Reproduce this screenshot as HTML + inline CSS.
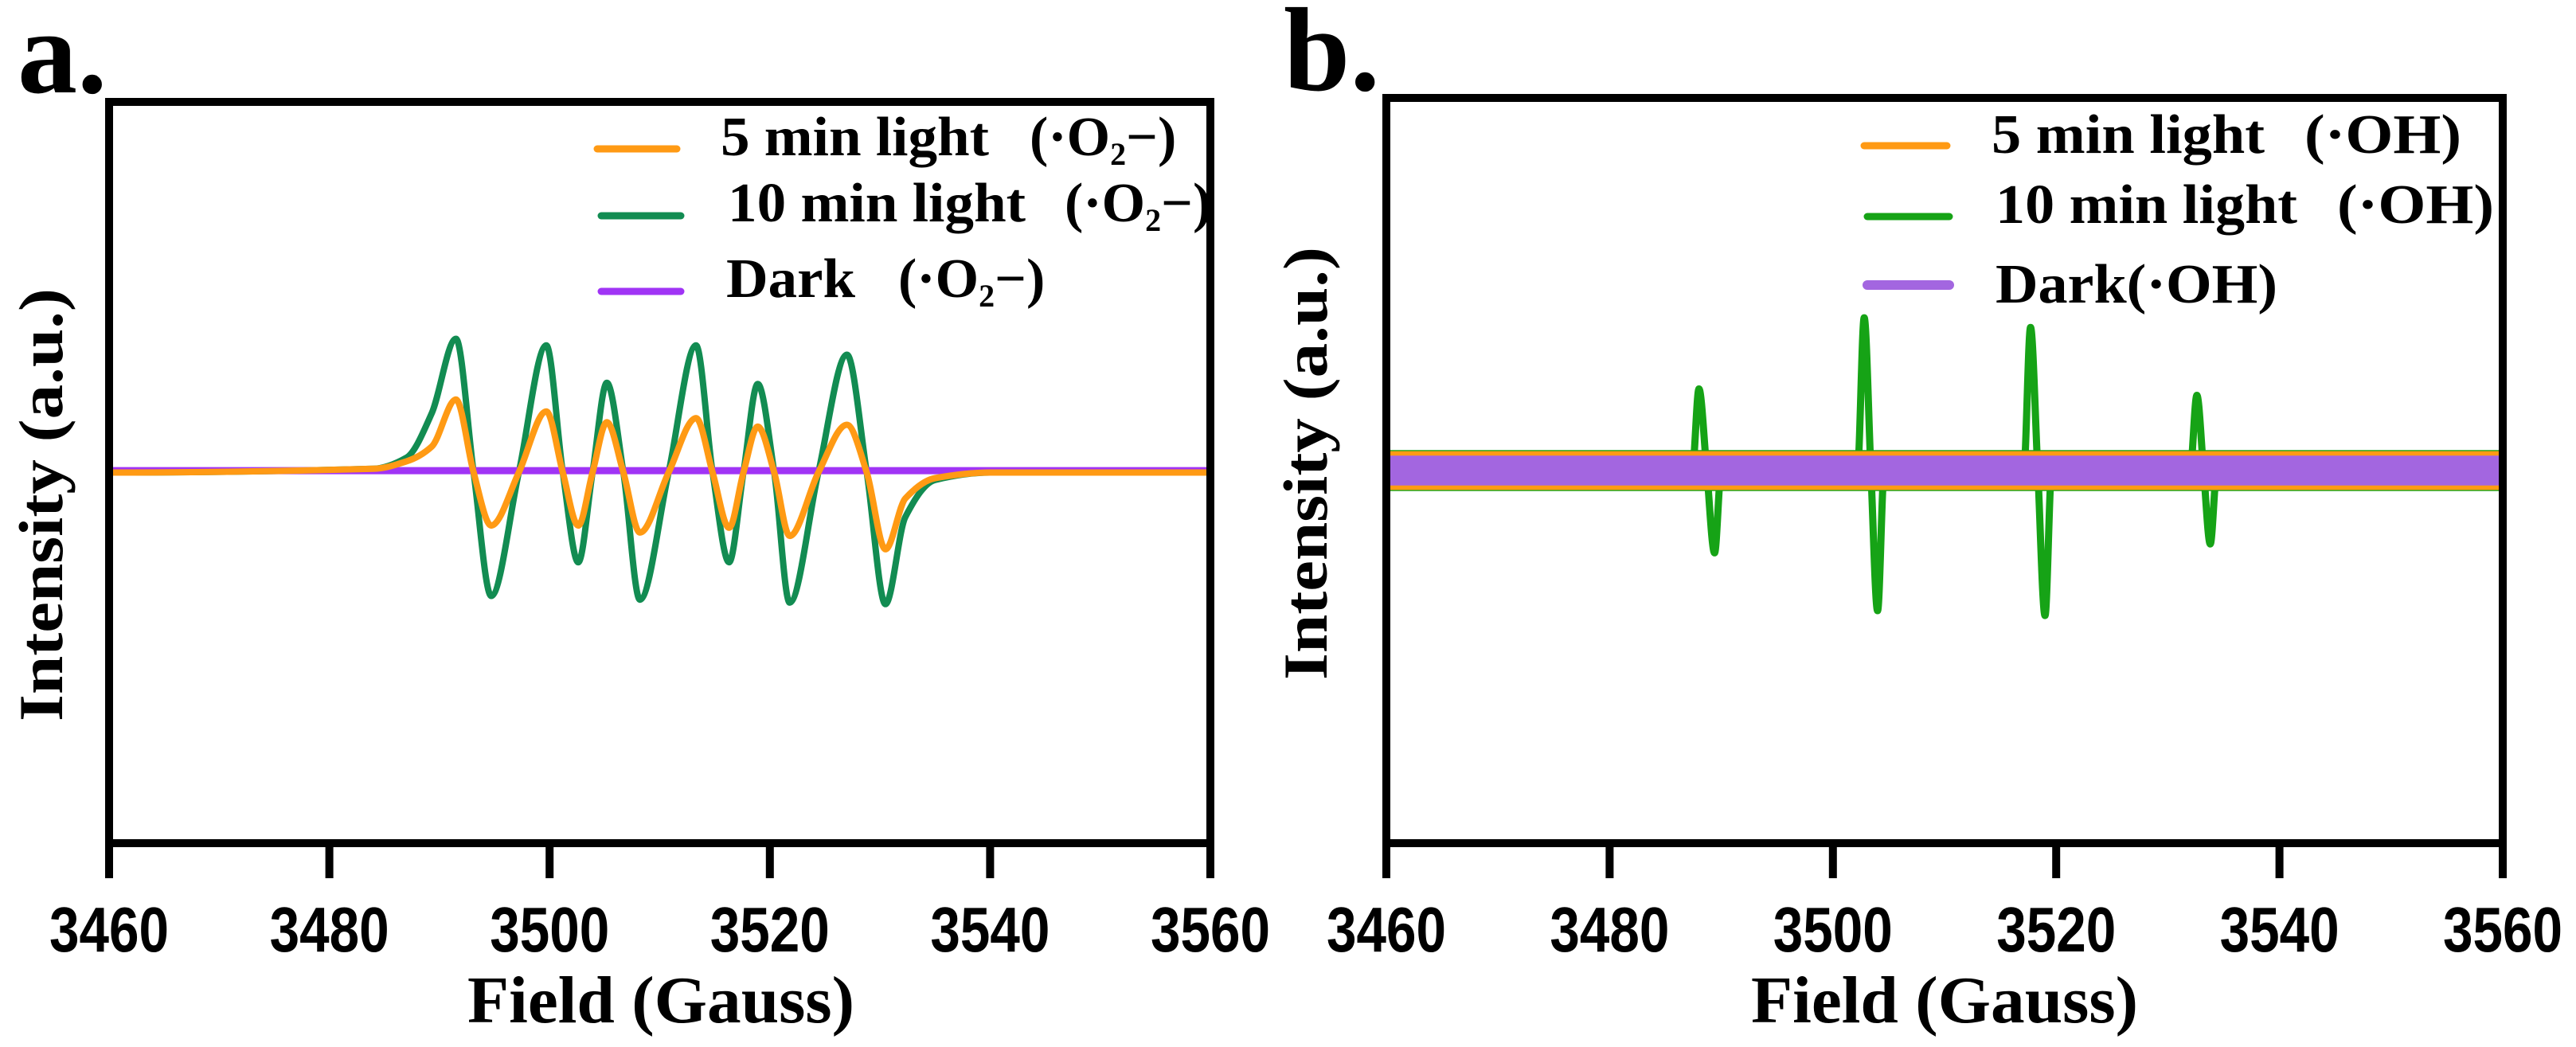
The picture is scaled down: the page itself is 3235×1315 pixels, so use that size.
<!DOCTYPE html>
<html><head><meta charset="utf-8">
<style>
html,body{margin:0;padding:0;background:#fff;}
svg{display:block;}
.ser{font-family:"Liberation Serif","Noto Serif CJK SC",serif;font-weight:bold;}
.san{font-family:"Liberation Sans",sans-serif;font-weight:bold;}
</style></head>
<body>
<svg id="fig" width="3235" height="1315" viewBox="0 0 3235 1315" xmlns="http://www.w3.org/2000/svg">
  <rect x="0" y="0" width="3235" height="1315" fill="#fff"/>
  <g id="panelA"></g>
  <g id="panelB"></g>

  <text class="ser" x="22" y="116" font-size="150">a.</text>
  <text class="ser" x="1612" y="113" font-size="150">b.</text>

  <g>
    <line x1="750" y1="187" x2="850" y2="187" stroke="#ff9a14" stroke-width="9" stroke-linecap="round"/>
    <line x1="755" y1="271" x2="855" y2="271" stroke="#128c52" stroke-width="9" stroke-linecap="round"/>
    <line x1="755" y1="366" x2="855" y2="366" stroke="#a034f5" stroke-width="9" stroke-linecap="round"/>
    <text class="ser" x="905" y="195" font-size="70" textLength="337" lengthAdjust="spacingAndGlyphs">5 min light</text>
    <text class="ser" x="1293" y="195" font-size="70">(·O<tspan font-size="40" dy="12">2</tspan><tspan dy="-12">−)</tspan></text>
    <text class="ser" x="914" y="278" font-size="70" textLength="374" lengthAdjust="spacingAndGlyphs">10 min light</text>
    <text class="ser" x="1337" y="278" font-size="70">(·O<tspan font-size="40" dy="12">2</tspan><tspan dy="-12">−)</tspan></text>
    <text class="ser" x="912" y="373" font-size="70" textLength="162" lengthAdjust="spacingAndGlyphs">Dark</text>
    <text class="ser" x="1128" y="373" font-size="70">(·O<tspan font-size="40" dy="12">2</tspan><tspan dy="-12">−)</tspan></text>
  </g>
  <g>
    <line x1="2341" y1="183" x2="2445" y2="183" stroke="#ff9a14" stroke-width="9" stroke-linecap="round"/>
    <line x1="2345" y1="272" x2="2448" y2="272" stroke="#16a316" stroke-width="9" stroke-linecap="round"/>
    <line x1="2345" y1="358" x2="2448" y2="358" stroke="#a366e0" stroke-width="12" stroke-linecap="round"/>
    <text class="ser" x="2501" y="192" font-size="70" textLength="343" lengthAdjust="spacingAndGlyphs">5 min light</text>
    <text class="ser" x="2894" y="192" font-size="70" textLength="197" lengthAdjust="spacingAndGlyphs">(·OH)</text>
    <text class="ser" x="2506" y="280" font-size="70" textLength="379" lengthAdjust="spacingAndGlyphs">10 min light</text>
    <text class="ser" x="2935" y="280" font-size="70" textLength="197" lengthAdjust="spacingAndGlyphs">(·OH)</text>
    <text class="ser" x="2506" y="380" font-size="70" textLength="354" lengthAdjust="spacingAndGlyphs">Dark(·OH)</text>
  </g>
</svg>
<script>
const xTicks = [3460, 3480, 3500, 3520, 3540, 3560];
const xDomain = [3460, 3560];
const yDomain = [-100, 100];

// panel a: superoxide
const aFields = [3460, 3484, 3487, 3489.3, 3491.5, 3493.1, 3494.7, 3497.2, 3499.7, 3501.2, 3502.6, 3503.9, 3505.2, 3506.7, 3508.2, 3510.8, 3513.3, 3514.8, 3516.3, 3517.6, 3518.9, 3520.4, 3521.8, 3524.4, 3527.0, 3528.8, 3530.5, 3532.3, 3535, 3540, 3560];
const aGreen10 = [0, 1, 4, 16, 36.1, 0, -33.3, 0, 34.3, 0, -24.2, 0, 24.2, 0, -34.3, 0, 34.3, 0, -24.2, 0, 23.9, 0, -35.1, 0, 31.8, 0, -35.5, -12, -2, 0, 0];
const aOrange5 = [0, 1, 3, 7, 19.7, 0, -14.3, 0, 16.5, 0, -14.3, 0, 13.6, 0, -16.2, 0, 14.7, 0, -14.9, 0, 12.4, 0, -17.1, 0, 12.9, 0, -20.7, -7, -1.5, 0, 0];
const aDarkFields = [3460, 3560];
const aDark = [0.5, 0.5];

// panel b: hydroxyl
const bFields = [3460, 3487.4, 3488.0, 3488.7, 3489.4, 3490.0, 3502.2, 3502.8, 3503.4, 3504.0, 3504.6, 3517.1, 3517.7, 3518.35, 3519.0, 3519.6, 3532.0, 3532.6, 3533.2, 3533.8, 3534.4, 3560];
const bGreen10 = [0, 0, 21.9, 0, -22.1, 0, 0, 41, 0, -37.6, 0, 0, 38.4, 0, -38.9, 0, 0, 20.2, 0, -19.7, 0, 0];
const bBaseFields = [3460, 3560];
const bGreenBase = [0, 0];
const bOrangeBase = [0, 0];
const bDarkBase = [0, 0];
const bNoiseAmp = [5.5, 5.2, 4.0];

const NS = "http://www.w3.org/2000/svg";
function mk(tag, attrs, parent){ const e=document.createElementNS(NS,tag); for(const k in attrs) e.setAttribute(k,attrs[k]); parent.appendChild(e); return e; }

function makeAxes(box){
  const sx = v => box.x0 + (v - xDomain[0]) / (xDomain[1]-xDomain[0]) * (box.x1-box.x0);
  const sy = v => box.y1 - (v - yDomain[0]) / (yDomain[1]-yDomain[0]) * (box.y1-box.y0);
  return {sx, sy};
}
// monotone cubic (Fritsch-Carlson) path
function curvePath(fields, vals, ax){
  const p = fields.map((f,i)=>[ax.sx(f), ax.sy(vals[i])]);
  const n=p.length;
  if(n===2) return "M"+p[0][0]+","+p[0][1]+" L"+p[1][0]+","+p[1][1];
  const s=[], m=[];
  for(let i=0;i<n-1;i++) s.push((p[i+1][1]-p[i][1])/(p[i+1][0]-p[i][0]));
  for(let i=0;i<n;i++){
    if(i===0) m.push(0); else if(i===n-1) m.push(0);
    else if(s[i-1]*s[i]<=0) m.push(0);
    else m.push(2/(1/s[i-1]+1/s[i]));
  }
  let d="M"+p[0][0].toFixed(1)+","+p[0][1].toFixed(1);
  for(let i=0;i<n-1;i++){
    const dx=p[i+1][0]-p[i][0];
    const c1=[p[i][0]+dx/3, p[i][1]+m[i]*dx/3];
    const c2=[p[i+1][0]-dx/3, p[i+1][1]-m[i+1]*dx/3];
    d+=" C"+c1[0].toFixed(1)+","+c1[1].toFixed(1)+" "+c2[0].toFixed(1)+","+c2[1].toFixed(1)+" "+p[i+1][0].toFixed(1)+","+p[i+1][1].toFixed(1);
  }
  return d;
}
function drawFrame(g, box, ax, prefix, yTitle, xTitleX){
  const frame = mk("rect",{x:box.x0,y:box.y0,width:box.x1-box.x0,height:box.y1-box.y0,fill:"none",stroke:"#000","stroke-width":10},g);
  
  
  xTicks.forEach(t=>{
    const x=ax.sx(t);
    const tk=mk("line",{x1:x,y1:box.y1,x2:x,y2:box.y1+44,stroke:"#000","stroke-width":10},g);
    
    
    const lb=mk("text",{x:x,y:box.y1+136,"text-anchor":"middle","font-size":80,"class":"san",textLength:150,lengthAdjust:"spacingAndGlyphs"},g);
    lb.textContent=String(t);
    
    
  });
  const xt=mk("text",{x:xTitleX,y:1284,"text-anchor":"middle","font-size":84,"class":"ser",textLength:486,lengthAdjust:"spacingAndGlyphs"},g);
  xt.textContent="Field (Gauss)";
  
  
  const yt=mk("text",{x:0,y:0,"text-anchor":"middle","font-size":78,"class":"ser",textLength:544,lengthAdjust:"spacingAndGlyphs",transform:"translate("+yTitle[0]+","+yTitle[1]+") rotate(-90)"},g);
  yt.textContent="Intensity (a.u.)";
  
  
}

// panel a
const gA=document.getElementById("panelA");
const boxA={x0:137,x1:1520,y0:128,y1:1059};
const axA=makeAxes(boxA);
const clipA=mk("clipPath",{id:"clipA"},gA); mk("rect",{x:boxA.x0,y:boxA.y0,width:boxA.x1-boxA.x0,height:boxA.y1-boxA.y0},clipA);
const sA=mk("g",{"clip-path":"url(#clipA)"},gA);


const gl=mk("path",{d:curvePath(aFields,aGreen10,axA),fill:"none",stroke:"#128c52","stroke-width":8,"stroke-linejoin":"round"},sA);


const dk=mk("path",{d:curvePath(aDarkFields,aDark,axA),fill:"none",stroke:"#a034f5","stroke-width":9},sA);


const orl=mk("path",{d:curvePath(aFields,aOrange5,axA),fill:"none",stroke:"#ff9a14","stroke-width":8,"stroke-linejoin":"round"},sA);


drawFrame(gA,boxA,axA,"panel-a",[78,634],830);

// panel b
const gB=document.getElementById("panelB");
const boxB={x0:1741,x1:3143,y0:123,y1:1059};
const axB=makeAxes(boxB);
const clipB=mk("clipPath",{id:"clipB"},gB); mk("rect",{x:boxB.x0,y:boxB.y0,width:boxB.x1-boxB.x0,height:boxB.y1-boxB.y0},clipB);
const sB=mk("g",{"clip-path":"url(#clipB)"},gB);


const pxPerUnit=(boxB.y1-boxB.y0)/(yDomain[1]-yDomain[0]);
const gb=mk("path",{d:curvePath(bBaseFields,bGreenBase,axB),fill:"none",stroke:"#16a316","stroke-width":2*bNoiseAmp[0]*pxPerUnit},sB);


const gs=mk("path",{d:curvePath(bFields,bGreen10,axB),fill:"none",stroke:"#16a316","stroke-width":9,"stroke-linejoin":"round"},sB);


const ob=mk("path",{d:curvePath(bBaseFields,bOrangeBase,axB),fill:"none",stroke:"#ff9a14","stroke-width":2*bNoiseAmp[1]*pxPerUnit},sB);


const db=mk("path",{d:curvePath(bBaseFields,bDarkBase,axB),fill:"none",stroke:"#a366e0","stroke-width":2*bNoiseAmp[2]*pxPerUnit},sB);


drawFrame(gB,boxB,axB,"panel-b",[1666,582],2442);
</script>
</body></html>
